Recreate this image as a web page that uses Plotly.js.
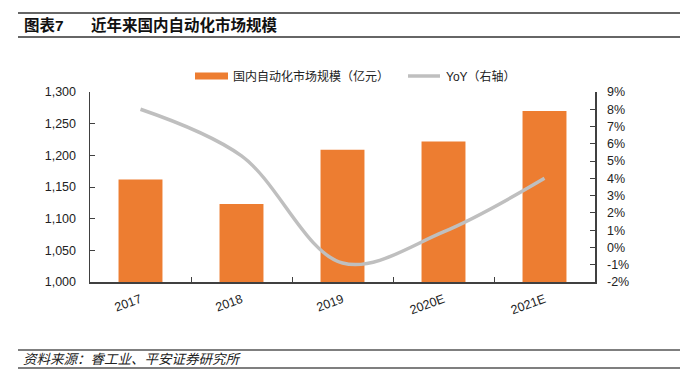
<!DOCTYPE html>
<html>
<head>
<meta charset="utf-8">
<script src="https://cdn.plot.ly/plotly-3.0.1.min.js"></script>
<style>
html,body{margin:0;padding:0;background:#fff;}
#chart{width:698px;height:385px;}
</style>
</head>
<body>
<div id="chart"></div>
<script>
// ---- data ----
var categories = ["2017", "2018", "2019", "2020E", "2021E"];
var marketSize = [1162, 1123, 1209, 1222, 1270];   // 亿元
var yoy = [8.0, 5.3, -0.9, 0.9, 4.0];              // %
var leftTicks = [1000, 1050, 1100, 1150, 1200, 1250, 1300];
var rightTicks = [-2, -1, 0, 1, 2, 3, 4, 5, 6, 7, 8, 9];

var seriesBarName = "国内自动化市场规模（亿元）";
var seriesLineName = "YoY（右轴）";
var chartTitleNo = "图表7";
var chartTitle = "近年来国内自动化市场规模";
var sourceText = "资料来源：睿工业、平安证券研究所";

// ---- layout helpers (pixel -> paper) ----
var W = 698, H = 385;
var L = 90, R = 595, T = 92, B = 282;
function px(x){ return (x - L) / (R - L); }
function py(y){ return (B - y) / (B - T); }

var FONT = "Liberation Sans, Arial, Noto Sans CJK SC, sans-serif";
var ORANGE = "#ED7D31";
var GRAY = "#BFBFBF";
var AXIS = "#404040";

var traces = [
  {
    type: "bar",
    x: categories,
    y: marketSize,
    name: seriesBarName,
    marker: {color: ORANGE},
    yaxis: "y",
    hoverinfo: "skip"
  },
  {
    type: "scatter",
    mode: "lines",
    x: categories,
    y: yoy,
    name: seriesLineName,
    line: {color: GRAY, width: 3.5, shape: "spline", smoothing: 1},
    yaxis: "y2",
    hoverinfo: "skip"
  }
];

var shapes = [
  // header lines
  {type:"line", xref:"paper", yref:"paper", x0:px(18), x1:px(680), y0:py(13), y1:py(13), line:{color:"#333", width:1.5}},
  {type:"line", xref:"paper", yref:"paper", x0:px(18), x1:px(680), y0:py(37), y1:py(37), line:{color:"#333", width:1.5}},
  // footer lines
  {type:"line", xref:"paper", yref:"paper", x0:px(18), x1:px(680), y0:py(350), y1:py(350), line:{color:"#555", width:1.5}},
  {type:"line", xref:"paper", yref:"paper", x0:px(18), x1:px(680), y0:py(368), y1:py(368), line:{color:"#555", width:1.5}},
  // legend swatches
  {type:"rect", xref:"paper", yref:"paper", x0:px(195), x1:px(228), y0:py(79.5), y1:py(72.5), fillcolor:ORANGE, line:{width:0}},
  {type:"line", xref:"paper", yref:"paper", x0:px(408), x1:px(440), y0:py(76), y1:py(76), line:{color:GRAY, width:3.5}}
];

var annotations = [
  {xref:"paper", yref:"paper", x:px(22), y:py(25), xanchor:"left", yanchor:"middle", showarrow:false,
   text:"<b>"+chartTitleNo+"</b>", font:{family:FONT, size:15.5, color:"#111"}},
  {xref:"paper", yref:"paper", x:px(89), y:py(25), xanchor:"left", yanchor:"middle", showarrow:false,
   text:"<b>"+chartTitle+"</b>", font:{family:FONT, size:15.5, color:"#111"}},
  {xref:"paper", yref:"paper", x:px(231), y:py(76), xanchor:"left", yanchor:"middle", showarrow:false,
   text:seriesBarName, font:{family:FONT, size:12, color:"#222"}},
  {xref:"paper", yref:"paper", x:px(444), y:py(76), xanchor:"left", yanchor:"middle", showarrow:false,
   text:seriesLineName, font:{family:FONT, size:12, color:"#222"}},
  {xref:"paper", yref:"paper", x:px(21), y:py(359), xanchor:"left", yanchor:"middle", showarrow:false,
   text:"<i>"+sourceText+"</i>", font:{family:FONT, size:13.5, color:"#222"}}
];

var layout = {
  width: W, height: H,
  margin: {l: L, r: W - R, t: T, b: H - B, pad: 0},
  paper_bgcolor: "#fff",
  plot_bgcolor: "#fff",
  showlegend: false,
  bargap: 0.565,
  font: {family: FONT, size: 12, color: "#222"},
  xaxis: {
    type: "category",
    showline: true, linecolor: AXIS, linewidth: 1.5,
    ticks: "inside", tickson: "boundaries", ticklen: 5, tickcolor: AXIS, tickwidth: 1,
    tickangle: -20,
    tickfont: {family: FONT, size: 12.5, color: "#222"},
    ticklabelstandoff: 4,
    showgrid: false, zeroline: false, fixedrange: true
  },
  yaxis: {
    range: [1000, 1300],
    tickmode: "array", tickvals: leftTicks,
    ticktext: leftTicks.map(function(v){ return v.toLocaleString("en-US"); }),
    showline: true, linecolor: AXIS, linewidth: 1.5,
    ticks: "inside", ticklen: 5, tickcolor: AXIS, tickwidth: 1,
    tickfont: {family: FONT, size: 12.5, color: "#222"},
    ticklabelstandoff: 10,
    showgrid: false, zeroline: false, fixedrange: true
  },
  yaxis2: {
    overlaying: "y", side: "right",
    range: [-2, 9],
    tickmode: "array", tickvals: rightTicks,
    ticktext: rightTicks.map(function(v){ return v + "%"; }),
    showline: true, linecolor: AXIS, linewidth: 1.5,
    ticks: "inside", ticklen: 5, tickcolor: AXIS, tickwidth: 1,
    tickfont: {family: FONT, size: 12.5, color: "#222"},
    ticklabelstandoff: 8,
    showgrid: false, zeroline: false, fixedrange: true
  },
  shapes: shapes,
  annotations: annotations
};

Plotly.newPlot("chart", traces, layout, {displayModeBar: false, staticPlot: true});
</script>
</body>
</html>
